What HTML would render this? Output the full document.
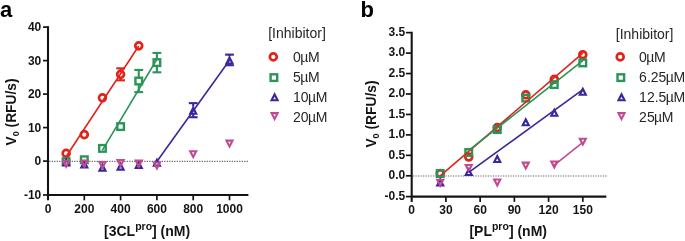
<!DOCTYPE html><html><head><meta charset="utf-8"><style>html,body{margin:0;padding:0;background:#fff;}svg{display:block;will-change:transform;}text{font-family:"Liberation Sans",sans-serif;}</style></head><body>
<svg width="685" height="241" viewBox="0 0 685 241">
<text x="0" y="17.4" font-size="22" font-weight="bold" fill="#000">a</text>
<text x="360.4" y="17" font-size="22" font-weight="bold" fill="#000">b</text>
<line x1="48.00" y1="26.20" x2="48.00" y2="200.30" stroke="#141414" stroke-width="2.1" />
<line x1="47.10" y1="195.00" x2="248.40" y2="195.00" stroke="#141414" stroke-width="2.1" />
<line x1="43.00" y1="27.10" x2="48.00" y2="27.10" stroke="#141414" stroke-width="1.7" />
<text x="41.3" y="31.00" font-size="12" font-weight="bold" fill="#141414" text-anchor="end">40</text>
<line x1="43.00" y1="60.60" x2="48.00" y2="60.60" stroke="#141414" stroke-width="1.7" />
<text x="41.3" y="64.50" font-size="12" font-weight="bold" fill="#141414" text-anchor="end">30</text>
<line x1="43.00" y1="94.10" x2="48.00" y2="94.10" stroke="#141414" stroke-width="1.7" />
<text x="41.3" y="98.00" font-size="12" font-weight="bold" fill="#141414" text-anchor="end">20</text>
<line x1="43.00" y1="127.60" x2="48.00" y2="127.60" stroke="#141414" stroke-width="1.7" />
<text x="41.3" y="131.50" font-size="12" font-weight="bold" fill="#141414" text-anchor="end">10</text>
<line x1="43.00" y1="161.10" x2="48.00" y2="161.10" stroke="#141414" stroke-width="1.7" />
<text x="41.3" y="165.00" font-size="12" font-weight="bold" fill="#141414" text-anchor="end">0</text>
<line x1="43.00" y1="195.00" x2="48.00" y2="195.00" stroke="#141414" stroke-width="1.7" />
<text x="41.3" y="198.90" font-size="12" font-weight="bold" fill="#141414" text-anchor="end">-10</text>
<text x="48.00" y="213.2" font-size="12" font-weight="bold" fill="#141414" text-anchor="middle">0</text>
<line x1="84.30" y1="195.00" x2="84.30" y2="200.30" stroke="#141414" stroke-width="1.7" />
<text x="84.30" y="213.2" font-size="12" font-weight="bold" fill="#141414" text-anchor="middle">200</text>
<line x1="120.60" y1="195.00" x2="120.60" y2="200.30" stroke="#141414" stroke-width="1.7" />
<text x="120.60" y="213.2" font-size="12" font-weight="bold" fill="#141414" text-anchor="middle">400</text>
<line x1="156.90" y1="195.00" x2="156.90" y2="200.30" stroke="#141414" stroke-width="1.7" />
<text x="156.90" y="213.2" font-size="12" font-weight="bold" fill="#141414" text-anchor="middle">600</text>
<line x1="193.20" y1="195.00" x2="193.20" y2="200.30" stroke="#141414" stroke-width="1.7" />
<text x="193.20" y="213.2" font-size="12" font-weight="bold" fill="#141414" text-anchor="middle">800</text>
<line x1="229.50" y1="195.00" x2="229.50" y2="200.30" stroke="#141414" stroke-width="1.7" />
<text x="229.50" y="213.2" font-size="12" font-weight="bold" fill="#141414" text-anchor="middle">1000</text>
<line x1="49.20" y1="161.30" x2="248.90" y2="161.30" stroke="#666" stroke-width="1.15" stroke-dasharray="1.25 1.25"/>
<text x="104.0" y="235.8" font-size="14" font-weight="bold" fill="#141414">[3CL<tspan dy="-6.2" font-size="10.5">pro</tspan><tspan dy="6.2">] (nM)</tspan></text>
<text transform="translate(16.3,145.5) rotate(-90)" font-size="13.8" font-weight="bold" fill="#141414">V<tspan dy="2.4" font-size="9">0</tspan><tspan dy="-2.4"> (RFU/s)</tspan></text>
<line x1="120.60" y1="70.83" x2="120.60" y2="68.33" stroke="#de241b" stroke-width="2.1" /><line x1="116.20" y1="68.33" x2="125.00" y2="68.33" stroke="#de241b" stroke-width="2.1" /><line x1="120.60" y1="77.83" x2="120.60" y2="80.33" stroke="#de241b" stroke-width="2.1" /><line x1="116.20" y1="80.33" x2="125.00" y2="80.33" stroke="#de241b" stroke-width="2.1" />
<circle cx="66.15" cy="153.39" r="3.45" fill="none" stroke="#de241b" stroke-width="2.7"/>
<circle cx="84.30" cy="134.63" r="3.45" fill="none" stroke="#de241b" stroke-width="2.7"/>
<circle cx="102.45" cy="97.78" r="3.45" fill="none" stroke="#de241b" stroke-width="2.7"/>
<circle cx="120.60" cy="74.33" r="3.45" fill="none" stroke="#de241b" stroke-width="2.7"/>
<circle cx="138.75" cy="45.86" r="3.45" fill="none" stroke="#de241b" stroke-width="2.7"/>
<line x1="138.75" y1="77.53" x2="138.75" y2="69.94" stroke="#2b9458" stroke-width="2.1" /><line x1="134.35" y1="69.94" x2="143.15" y2="69.94" stroke="#2b9458" stroke-width="2.1" /><line x1="138.75" y1="84.53" x2="138.75" y2="92.13" stroke="#2b9458" stroke-width="2.1" /><line x1="134.35" y1="92.13" x2="143.15" y2="92.13" stroke="#2b9458" stroke-width="2.1" />
<line x1="156.90" y1="59.11" x2="156.90" y2="52.91" stroke="#2b9458" stroke-width="2.1" /><line x1="152.50" y1="52.91" x2="161.30" y2="52.91" stroke="#2b9458" stroke-width="2.1" /><line x1="156.90" y1="66.11" x2="156.90" y2="72.31" stroke="#2b9458" stroke-width="2.1" /><line x1="152.50" y1="72.31" x2="161.30" y2="72.31" stroke="#2b9458" stroke-width="2.1" />
<rect x="62.85" y="158.30" width="6.60" height="6.60" fill="none" stroke="#2b9458" stroke-width="2.4"/>
<rect x="81.00" y="156.46" width="6.60" height="6.60" fill="none" stroke="#2b9458" stroke-width="2.4"/>
<rect x="99.15" y="145.07" width="6.60" height="6.60" fill="none" stroke="#2b9458" stroke-width="2.4"/>
<rect x="117.30" y="123.30" width="6.60" height="6.60" fill="none" stroke="#2b9458" stroke-width="2.4"/>
<rect x="135.45" y="77.73" width="6.60" height="6.60" fill="none" stroke="#2b9458" stroke-width="2.4"/>
<rect x="153.60" y="59.31" width="6.60" height="6.60" fill="none" stroke="#2b9458" stroke-width="2.4"/>
<line x1="193.20" y1="106.68" x2="193.20" y2="103.13" stroke="#38289a" stroke-width="2.1" /><line x1="188.80" y1="103.13" x2="197.60" y2="103.13" stroke="#38289a" stroke-width="2.1" /><line x1="193.20" y1="113.68" x2="193.20" y2="117.23" stroke="#38289a" stroke-width="2.1" /><line x1="188.80" y1="117.23" x2="197.60" y2="117.23" stroke="#38289a" stroke-width="2.1" />
<line x1="229.50" y1="56.43" x2="229.50" y2="54.63" stroke="#38289a" stroke-width="2.1" /><line x1="225.10" y1="54.63" x2="233.90" y2="54.63" stroke="#38289a" stroke-width="2.1" /><line x1="229.50" y1="63.43" x2="229.50" y2="65.23" stroke="#38289a" stroke-width="2.1" /><line x1="225.10" y1="65.23" x2="233.90" y2="65.23" stroke="#38289a" stroke-width="2.1" />
<path d="M66.15 157.24L61.40 166.44L70.90 166.44ZM66.15 161.81L67.45 164.34L64.85 164.34Z" fill="#38289a" fill-rule="evenodd"/>
<path d="M84.30 159.21L79.55 168.41L89.05 168.41ZM84.30 163.79L85.60 166.31L83.00 166.31Z" fill="#38289a" fill-rule="evenodd"/>
<path d="M102.45 162.50L97.70 171.70L107.20 171.70ZM102.45 167.07L103.75 169.60L101.15 169.60Z" fill="#38289a" fill-rule="evenodd"/>
<path d="M120.60 161.49L115.85 170.69L125.35 170.69ZM120.60 166.07L121.90 168.59L119.30 168.59Z" fill="#38289a" fill-rule="evenodd"/>
<path d="M138.75 159.82L134.00 169.02L143.50 169.02ZM138.75 164.39L140.05 166.92L137.45 166.92Z" fill="#38289a" fill-rule="evenodd"/>
<path d="M156.90 157.50L152.15 166.70L161.65 166.70ZM156.90 162.08L158.20 164.60L155.60 164.60Z" fill="#38289a" fill-rule="evenodd"/>
<path d="M193.20 105.58L188.45 114.78L197.95 114.78ZM193.20 110.16L194.50 112.68L191.90 112.68Z" fill="#38289a" fill-rule="evenodd"/>
<path d="M229.50 55.33L224.75 64.53L234.25 64.53ZM229.50 59.91L230.80 62.43L228.20 62.43Z" fill="#38289a" fill-rule="evenodd"/>
<path d="M66.15 168.95L61.40 159.75L70.90 159.75ZM66.15 164.37L67.45 161.85L64.85 161.85Z" fill="#c24a91" fill-rule="evenodd"/>
<path d="M84.30 168.65L79.55 159.45L89.05 159.45ZM84.30 164.07L85.60 161.55L83.00 161.55Z" fill="#c24a91" fill-rule="evenodd"/>
<path d="M102.45 170.09L97.70 160.89L107.20 160.89ZM102.45 165.51L103.75 162.99L101.15 162.99Z" fill="#c24a91" fill-rule="evenodd"/>
<path d="M120.60 168.21L115.85 159.01L125.35 159.01ZM120.60 163.64L121.90 161.11L119.30 161.11Z" fill="#c24a91" fill-rule="evenodd"/>
<path d="M138.75 168.65L134.00 159.45L143.50 159.45ZM138.75 164.07L140.05 161.55L137.45 161.55Z" fill="#c24a91" fill-rule="evenodd"/>
<path d="M156.90 170.66L152.15 161.46L161.65 161.46ZM156.90 166.08L158.20 163.56L155.60 163.56Z" fill="#c24a91" fill-rule="evenodd"/>
<path d="M193.20 159.33L188.45 150.13L197.95 150.13ZM193.20 154.76L194.50 152.23L191.90 152.23Z" fill="#c24a91" fill-rule="evenodd"/>
<path d="M229.50 148.82L224.75 139.62L234.25 139.62ZM229.50 144.24L230.80 141.72L228.20 141.72Z" fill="#c24a91" fill-rule="evenodd"/>
<line x1="66.15" y1="156.48" x2="138.75" y2="46.06" stroke="#de241b" stroke-width="1.6" />
<line x1="102.45" y1="150.08" x2="156.90" y2="59.23" stroke="#2b9458" stroke-width="1.6" />
<line x1="156.90" y1="161.44" x2="229.50" y2="60.26" stroke="#38289a" stroke-width="1.6" />
<text x="268.20" y="37.5" font-size="14" fill="#262626">[Inhibitor]</text>
<circle cx="273.30" cy="56.90" r="3.45" fill="none" stroke="#de241b" stroke-width="2.7"/>
<text x="293.00" y="61.60" font-size="14" fill="#262626">0<tspan dx="-0.6">µ</tspan><tspan dx="-0.3">M</tspan></text>
<rect x="270.60" y="74.30" width="6.60" height="6.60" fill="none" stroke="#2b9458" stroke-width="2.4"/>
<text x="293.00" y="81.60" font-size="14" fill="#262626">5<tspan dx="-0.6">µ</tspan><tspan dx="-0.3">M</tspan></text>
<path d="M274.60 92.10L269.85 101.30L279.35 101.30ZM274.60 96.68L275.90 99.20L273.30 99.20Z" fill="#38289a" fill-rule="evenodd"/>
<text x="293.00" y="101.60" font-size="14" fill="#262626">10<tspan dx="-0.6">µ</tspan><tspan dx="-0.3">M</tspan></text>
<path d="M274.60 121.30L269.85 112.10L279.35 112.10ZM274.60 116.72L275.90 114.20L273.30 114.20Z" fill="#c24a91" fill-rule="evenodd"/>
<text x="293.00" y="121.60" font-size="14" fill="#262626">20<tspan dx="-0.6">µ</tspan><tspan dx="-0.3">M</tspan></text>
<line x1="411.70" y1="31.75" x2="411.70" y2="201.90" stroke="#141414" stroke-width="2.1" />
<line x1="410.80" y1="196.60" x2="606.30" y2="196.60" stroke="#141414" stroke-width="2.1" />
<line x1="405.90" y1="32.65" x2="411.70" y2="32.65" stroke="#141414" stroke-width="1.7" />
<text x="405.3" y="35.85" font-size="12" font-weight="bold" fill="#141414" text-anchor="end">3.5</text>
<line x1="405.90" y1="53.10" x2="411.70" y2="53.10" stroke="#141414" stroke-width="1.7" />
<text x="405.3" y="56.30" font-size="12" font-weight="bold" fill="#141414" text-anchor="end">3.0</text>
<line x1="405.90" y1="73.55" x2="411.70" y2="73.55" stroke="#141414" stroke-width="1.7" />
<text x="405.3" y="76.75" font-size="12" font-weight="bold" fill="#141414" text-anchor="end">2.5</text>
<line x1="405.90" y1="94.00" x2="411.70" y2="94.00" stroke="#141414" stroke-width="1.7" />
<text x="405.3" y="97.20" font-size="12" font-weight="bold" fill="#141414" text-anchor="end">2.0</text>
<line x1="405.90" y1="114.45" x2="411.70" y2="114.45" stroke="#141414" stroke-width="1.7" />
<text x="405.3" y="117.65" font-size="12" font-weight="bold" fill="#141414" text-anchor="end">1.5</text>
<line x1="405.90" y1="134.90" x2="411.70" y2="134.90" stroke="#141414" stroke-width="1.7" />
<text x="405.3" y="138.10" font-size="12" font-weight="bold" fill="#141414" text-anchor="end">1.0</text>
<line x1="405.90" y1="155.35" x2="411.70" y2="155.35" stroke="#141414" stroke-width="1.7" />
<text x="405.3" y="158.55" font-size="12" font-weight="bold" fill="#141414" text-anchor="end">0.5</text>
<line x1="405.90" y1="175.80" x2="411.70" y2="175.80" stroke="#141414" stroke-width="1.7" />
<text x="405.3" y="179.00" font-size="12" font-weight="bold" fill="#141414" text-anchor="end">0.0</text>
<line x1="405.90" y1="196.60" x2="411.70" y2="196.60" stroke="#141414" stroke-width="1.7" />
<text x="405.3" y="199.80" font-size="12" font-weight="bold" fill="#141414" text-anchor="end">-0.5</text>
<text x="411.70" y="214.2" font-size="12" font-weight="bold" fill="#141414" text-anchor="middle">0</text>
<line x1="445.92" y1="196.60" x2="445.92" y2="201.90" stroke="#141414" stroke-width="1.7" />
<text x="445.92" y="214.2" font-size="12" font-weight="bold" fill="#141414" text-anchor="middle">30</text>
<line x1="480.14" y1="196.60" x2="480.14" y2="201.90" stroke="#141414" stroke-width="1.7" />
<text x="480.14" y="214.2" font-size="12" font-weight="bold" fill="#141414" text-anchor="middle">60</text>
<line x1="514.36" y1="196.60" x2="514.36" y2="201.90" stroke="#141414" stroke-width="1.7" />
<text x="514.36" y="214.2" font-size="12" font-weight="bold" fill="#141414" text-anchor="middle">90</text>
<line x1="548.58" y1="196.60" x2="548.58" y2="201.90" stroke="#141414" stroke-width="1.7" />
<text x="548.58" y="214.2" font-size="12" font-weight="bold" fill="#141414" text-anchor="middle">120</text>
<line x1="582.81" y1="196.60" x2="582.81" y2="201.90" stroke="#141414" stroke-width="1.7" />
<text x="582.81" y="214.2" font-size="12" font-weight="bold" fill="#141414" text-anchor="middle">150</text>
<line x1="412.90" y1="176.00" x2="606.80" y2="176.00" stroke="#666" stroke-width="1.15" stroke-dasharray="1.25 1.25"/>
<text x="469.4" y="236.3" font-size="14" font-weight="bold" fill="#141414">[PL<tspan dy="-6.2" font-size="10.5">pro</tspan><tspan dy="6.2">] (nM)</tspan></text>
<text transform="translate(376.4,147.6) rotate(-90)" font-size="13.8" font-weight="bold" fill="#141414">V<tspan dy="2.4" font-size="9">0</tspan><tspan dy="-2.4"> (RFU/s)</tspan></text>
<circle cx="440.22" cy="173.51" r="3.45" fill="none" stroke="#de241b" stroke-width="2.7"/>
<circle cx="468.74" cy="156.99" r="3.45" fill="none" stroke="#de241b" stroke-width="2.7"/>
<circle cx="497.25" cy="127.54" r="3.45" fill="none" stroke="#de241b" stroke-width="2.7"/>
<circle cx="525.77" cy="94.82" r="3.45" fill="none" stroke="#de241b" stroke-width="2.7"/>
<circle cx="554.29" cy="79.28" r="3.45" fill="none" stroke="#de241b" stroke-width="2.7"/>
<circle cx="582.81" cy="54.74" r="3.45" fill="none" stroke="#de241b" stroke-width="2.7"/>
<rect x="436.92" y="170.21" width="6.60" height="6.60" fill="none" stroke="#2b9458" stroke-width="2.4"/>
<rect x="465.44" y="149.19" width="6.60" height="6.60" fill="none" stroke="#2b9458" stroke-width="2.4"/>
<rect x="493.95" y="126.28" width="6.60" height="6.60" fill="none" stroke="#2b9458" stroke-width="2.4"/>
<rect x="522.47" y="94.79" width="6.60" height="6.60" fill="none" stroke="#2b9458" stroke-width="2.4"/>
<rect x="550.99" y="81.29" width="6.60" height="6.60" fill="none" stroke="#2b9458" stroke-width="2.4"/>
<rect x="579.51" y="59.62" width="6.60" height="6.60" fill="none" stroke="#2b9458" stroke-width="2.4"/>
<path d="M440.22 177.34L435.47 186.53L444.97 186.53ZM440.22 181.91L441.52 184.43L438.92 184.43Z" fill="#38289a" fill-rule="evenodd"/>
<path d="M468.74 166.91L463.99 176.11L473.49 176.11ZM468.73 171.48L470.04 174.01L467.43 174.01Z" fill="#38289a" fill-rule="evenodd"/>
<path d="M497.25 153.86L492.50 163.06L502.00 163.06ZM497.25 158.44L498.55 160.96L495.95 160.96Z" fill="#38289a" fill-rule="evenodd"/>
<path d="M525.77 117.05L521.02 126.25L530.52 126.25ZM525.77 121.63L527.07 124.15L524.47 124.15Z" fill="#38289a" fill-rule="evenodd"/>
<path d="M554.29 107.60L549.54 116.80L559.04 116.80ZM554.29 112.18L555.59 114.70L552.99 114.70Z" fill="#38289a" fill-rule="evenodd"/>
<path d="M582.81 86.62L578.06 95.82L587.56 95.82ZM582.81 91.20L584.11 93.72L581.50 93.72Z" fill="#38289a" fill-rule="evenodd"/>
<path d="M440.22 187.97L435.47 178.77L444.97 178.77ZM440.22 183.39L441.52 180.87L438.92 180.87Z" fill="#c24a91" fill-rule="evenodd"/>
<path d="M468.74 173.20L463.99 164.00L473.49 164.00ZM468.73 168.62L470.04 166.10L467.43 166.10Z" fill="#c24a91" fill-rule="evenodd"/>
<path d="M497.25 187.64L492.50 178.44L502.00 178.44ZM497.25 183.06L498.55 180.54L495.95 180.54Z" fill="#c24a91" fill-rule="evenodd"/>
<path d="M525.77 170.75L521.02 161.55L530.52 161.55ZM525.77 166.17L527.07 163.65L524.47 163.65Z" fill="#c24a91" fill-rule="evenodd"/>
<path d="M554.29 169.64L549.54 160.44L559.04 160.44ZM554.29 165.07L555.59 162.54L552.99 162.54Z" fill="#c24a91" fill-rule="evenodd"/>
<path d="M582.81 146.86L578.06 137.66L587.56 137.66ZM582.81 142.28L584.11 139.76L581.50 139.76Z" fill="#c24a91" fill-rule="evenodd"/>
<line x1="440.22" y1="175.88" x2="582.81" y2="53.10" stroke="#de241b" stroke-width="1.6" />
<line x1="468.74" y1="150.36" x2="582.81" y2="60.71" stroke="#2b9458" stroke-width="1.6" />
<line x1="468.74" y1="172.45" x2="582.81" y2="89.66" stroke="#38289a" stroke-width="1.6" />
<line x1="554.29" y1="165.04" x2="582.81" y2="142.26" stroke="#c24a91" stroke-width="1.6" />
<text x="615.80" y="38.5" font-size="14" fill="#262626">[Inhibitor]</text>
<circle cx="620.20" cy="56.90" r="3.45" fill="none" stroke="#de241b" stroke-width="2.7"/>
<text x="639.10" y="61.60" font-size="14" fill="#262626">0<tspan dx="-0.6">µ</tspan><tspan dx="-0.3">M</tspan></text>
<rect x="617.50" y="74.30" width="6.60" height="6.60" fill="none" stroke="#2b9458" stroke-width="2.4"/>
<text x="639.10" y="81.60" font-size="14" fill="#262626">6.25<tspan dx="-0.6">µ</tspan><tspan dx="-0.3">M</tspan></text>
<path d="M621.50 92.10L616.75 101.30L626.25 101.30ZM621.50 96.68L622.80 99.20L620.20 99.20Z" fill="#38289a" fill-rule="evenodd"/>
<text x="639.10" y="101.60" font-size="14" fill="#262626">12.5<tspan dx="-0.6">µ</tspan><tspan dx="-0.3">M</tspan></text>
<path d="M621.50 121.30L616.75 112.10L626.25 112.10ZM621.50 116.72L622.80 114.20L620.20 114.20Z" fill="#c24a91" fill-rule="evenodd"/>
<text x="639.10" y="121.60" font-size="14" fill="#262626">25<tspan dx="-0.6">µ</tspan><tspan dx="-0.3">M</tspan></text>
</svg></body></html>
